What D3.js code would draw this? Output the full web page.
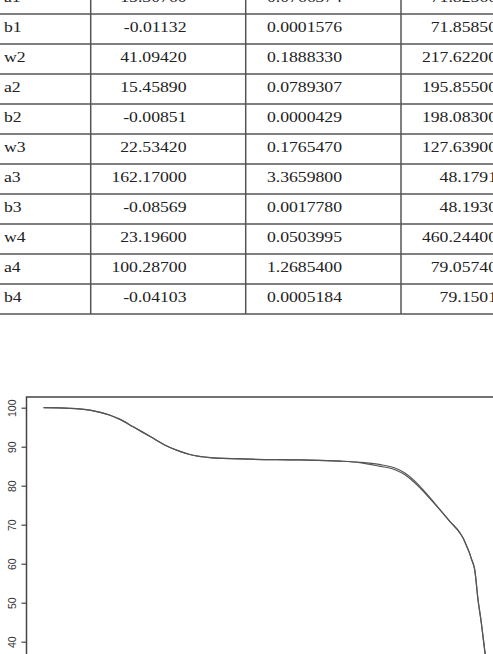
<!DOCTYPE html>
<html><head><meta charset="utf-8">
<script src="https://cdn.jsdelivr.net/npm/d3@7"></script>
<style>html,body{margin:0;padding:0;background:#fff;overflow:hidden}svg{display:block}</style>
</head><body>
<svg id="c" width="493" height="654"></svg>
<script>
// ---- table data ----
const params = ["a1","b1","w2","a2","b2","w3","a3","b3","w4","a4","b4"];
const estimates = ["15.30760","-0.01132","41.09420","15.45890","-0.00851","22.53420","162.17000","-0.08569","23.19600","100.28700","-0.04103"];
const stdErrors = ["0.0766374","0.0001576","0.1888330","0.0789307","0.0000429","0.1765470","3.3659800","0.0017780","0.0503995","1.2685400","0.0005184"];
const tValues = ["71.82560","71.85850","217.62200","195.85500","198.08300","127.63900","48.1791","48.1930","460.24400","79.05740","79.1501"];

// ---- curve data (temperature, mass %) ----
const temperature = [51,99,135,154,172,190,214,245,275,299,317,354,426,517,590,626,661,690,708,735,754,772,790,808,814,820,825,829,835,841,847,853,859];
const massObserved = [100.0,99.85,99.4,98.8,98.05,97.0,95.1,92.6,90.2,88.8,88.0,87.2,86.8,86.6,86.3,86.0,85.45,84.55,83.25,79.9,76.85,73.8,70.8,67.9,66.5,64.6,62.9,61.2,58.4,50.7,44.8,37.9,31.5];
const massFitted   = [100.0,99.85,99.4,98.8,98.05,97.0,95.1,92.6,90.2,88.8,88.0,87.2,86.8,86.6,86.3,85.9,85.0,84.1,82.8,79.5,76.6,73.8,70.8,67.9,66.5,64.6,62.9,61.2,58.4,50.7,44.8,37.9,31.5];
const yTicks = [40,50,60,70,80,90,100];

const svg = d3.select("#c");

// ---- table ----
const rowH = 30, tableTop = -16, colX = [90.7, 245.7, 401];
const tbl = svg.append("g");
const rowLines = d3.range(1, params.length + 1).map(i => tableTop + i * rowH);
tbl.selectAll("line.h").data(rowLines).enter().append("line")
  .attr("x1", 0).attr("x2", 493).attr("y1", d => d).attr("y2", d => d)
  .attr("stroke", "#555").attr("stroke-width", 1.5);
tbl.selectAll("line.v").data(colX).enter().append("line")
  .attr("x1", d => d).attr("x2", d => d).attr("y1", 0).attr("y2", tableTop + params.length * rowH)
  .attr("stroke", "#555").attr("stroke-width", 1.5);

const cols = [
  {vals: params, x: 4, anchor: "start"},
  {vals: estimates, x: 186.5, anchor: "end"},
  {vals: stdErrors, x: 342, anchor: "end"},
  {vals: tValues, x: 497, anchor: "end"}
];
cols.forEach(c => {
  tbl.selectAll(null).data(c.vals).enter().append("text")
    .attr("transform", (d, i) => `translate(${c.x},${tableTop + i * rowH + 18}) scale(1.14,1)`)
    .attr("text-anchor", c.anchor)
    .style("font-family", "Liberation Serif, Times New Roman, Times, serif")
    .attr("font-size", 15.5)
    .attr("fill", "#222")
    .text(d => d);
});

// ---- chart ----
const plotLeft = 26.5, plotTop = 397;
const x = d3.scaleLinear().domain([20, 900]).range([plotLeft, plotLeft + 880 * 0.55]);
const y = d3.scaleLinear().domain([40, 100]).range([641.7, 407.7]);

svg.append("rect").attr("x", plotLeft).attr("y", plotTop)
  .attr("width", 600).attr("height", 400)
  .attr("fill", "none").attr("stroke", "#444").attr("stroke-width", 1.5);

const yAxis = svg.append("g").attr("transform", `translate(${plotLeft},0)`)
  .call(d3.axisLeft(y).tickValues(yTicks).tickSize(5).tickSizeOuter(0).tickPadding(3));
yAxis.select(".domain").remove();
yAxis.selectAll(".tick line").attr("stroke", "#444").attr("stroke-width", 1.2);
yAxis.selectAll(".tick text")
  .style("font-family", "Liberation Sans, Arial, sans-serif")
  .attr("font-size", 10.5).attr("fill", "#333")
  .attr("text-anchor", "middle")
  .attr("transform", "rotate(-90)")
  .attr("x", 0).attr("y", -11).attr("dy", 0);

const line = d3.line().x(d => x(d[0])).y(d => y(d[1])).curve(d3.curveMonotoneX);
[massObserved, massFitted].forEach(series => {
  svg.append("path")
    .datum(temperature.map((t, i) => [t, series[i]]))
    .attr("d", line).attr("fill", "none")
    .attr("stroke", "#555").attr("stroke-width", 1.2);
});
</script>
</body></html>
